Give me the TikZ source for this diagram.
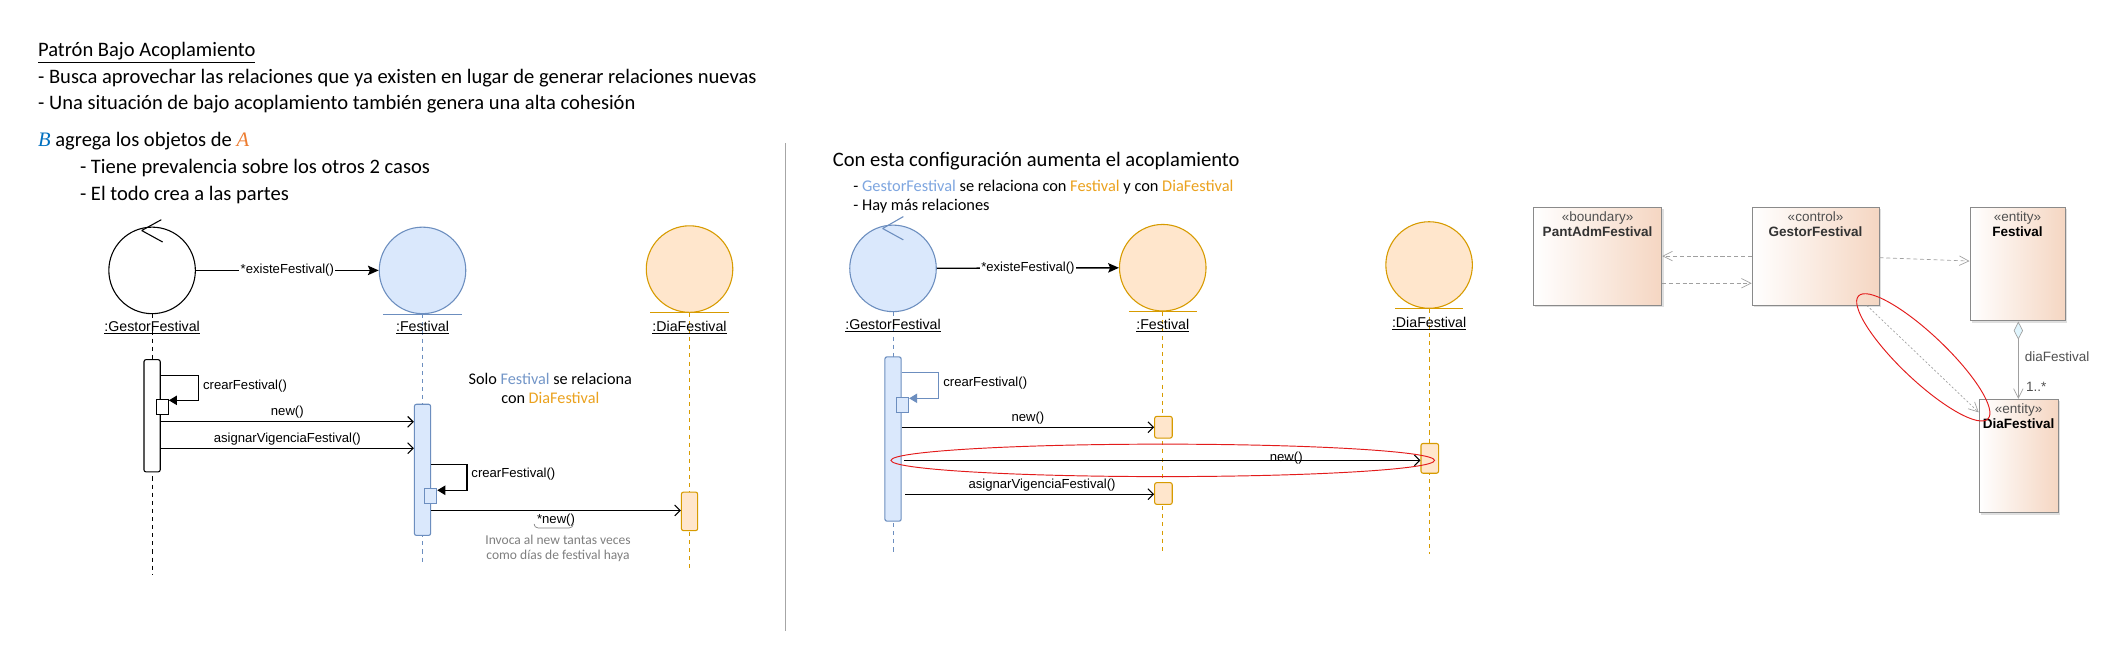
\documentclass[tikz,border=0pt]{standalone}
\usepackage{fontspec}
\setmainfont{Carlito}
\newfontfamily\seqfont{Liberation Sans}
\newfontfamily\letrafont{Liberation Serif}
\usepackage{xcolor}
\usepackage{tikz}
\usetikzlibrary{positioning,shapes,arrows.meta,shadows}

\definecolor{azulF}{HTML}{DAE8FC}
\definecolor{azulB}{HTML}{6C8EBF}
\definecolor{naranjaF}{HTML}{FFE6CC}
\definecolor{naranjaB}{HTML}{D79B00}
\definecolor{txtAzul}{HTML}{7396C8}
\definecolor{txtAzulC}{HTML}{7EA6E0}
\definecolor{txtNar}{HTML}{EBA21E}
\definecolor{letraB}{HTML}{0070C0}
\definecolor{letraA}{HTML}{ED7D31}
\definecolor{gris}{HTML}{7F7F7F}
\definecolor{grisC}{HTML}{505050}
\definecolor{rojo}{HTML}{E31B1B}
\definecolor{durazno}{HTML}{F5D6C2}
\definecolor{borde}{HTML}{8A8A8A}
\definecolor{flecha}{HTML}{A0A0A0}

\begin{document}
\begin{tikzpicture}
  [x=1pt,y=-1pt,
   every node/.style={inner sep=0pt},
   texto/.style={anchor=base west, font=\fontsize{15.2}{18}\selectfont},
   textochico/.style={anchor=base west, font=\fontsize{12.1}{14}\selectfont},
   ctrl/.style={draw, circle, minimum size=64pt, line width=.8pt},
   ent/.style={draw=naranjaB, fill=naranjaF, circle, minimum size=64pt, line width=.8pt},
   nombre/.style={font=\seqfont\fontsize{10.5}{12}\selectfont},
   vida/.style={dash pattern=on 3pt off 3pt, line width=.7pt},
   act/.style={draw, rounded corners=1.5pt, minimum width=12pt, line width=.8pt},
   sub/.style={draw, minimum width=9pt, minimum height=11pt, line width=.8pt},
   msg/.style={-{Straight Barb[length=4pt,width=8pt]}, line width=.8pt},
   propia/.style={-{Triangle[length=6pt,width=7pt]}, line width=.8pt},
   llama/.style={-{Stealth[length=8pt,width=7pt,inset=1.5pt]}, line width=1pt},
   etq/.style={font=\seqfont\fontsize{9.7}{11}\selectfont},
   clase/.style={draw=borde, line width=.6pt, left color=white, right color=durazno,
     drop shadow={shadow xshift=1.5pt, shadow yshift=-1.5pt, opacity=.25}},
   clasetxt/.style={anchor=north, align=center, font=\seqfont\fontsize{10}{11}\selectfont, text=black!80},
   dep/.style={flecha, dash pattern=on 3pt off 2pt, line width=.5pt, -{Straight Barb[length=7pt,width=7pt]}},
   circulo/.style={rojo, line width=.7pt}]

  \fill[white] (0,0) rectangle (1568,482);
  \useasboundingbox (0,0) rectangle (1568,482);

  \node[texto] (titulo) at (28,42) {\underline{Patrón Bajo Acoplamiento}};
  \node[texto] (l1) at (28,61.7) {- Busca aprovechar las relaciones que ya existen en lugar de generar relaciones nuevas};
  \node[texto] (l2) at (28,81) {- Una situación de bajo acoplamiento también genera una alta cohesión};
  \node[texto] (l3) at (28,108.6) {\textcolor{letraB}{\letrafont\itshape B} agrega los objetos de \textcolor{letraA}{\letrafont\itshape A}};
  \node[texto] (l4) at (59,128.3) {- Tiene prevalencia sobre los otros 2 casos};
  \node[texto] (l5) at (59,148) {- El todo crea a las partes};

  \node[ctrl] (g1) at (112.5,200) {};
  \draw[line width=.8pt] (g1.center) ++(-7.7,-29.5) coordinate (g1p) -- ++(14.5,-8) (g1p) -- ++(15.5,8.5);
  \node[ent, draw=azulB, fill=azulF] (f1) at (312.5,200) {};
  \draw[azulB, line width=.8pt] ([xshift=-29pt]f1.south) -- ([xshift=29pt]f1.south);
  \node[ent] (d1) at (510,199) {};
  \draw[naranjaB, line width=.8pt] ([xshift=-29pt]d1.south) -- ([xshift=29pt]d1.south);

  \draw[llama] (g1) -- (f1) node[etq, midway, fill=white, inner sep=1pt] (e1) {*existeFestival()};

  \coordinate (g1fin) at (112.5,425);
  \coordinate (f1fin) at (312.5,416);
  \coordinate (d1fin) at (510,420);
  \foreach \from/\to/\col in {g1/g1fin/black, f1/f1fin/azulB, d1/d1fin/naranjaB}
    \draw[vida, \col] (\from) -- (\to);

  \node[nombre] (g1n) at (112.5,242.5) {\underline{:GestorFestival}};
  \node[nombre] (f1n) at (312.5,242.5) {\underline{:Festival}};
  \node[nombre] (d1n) at (510,242.5) {\underline{:DiaFestival}};

  \node[act, fill=white, minimum height=83pt] (ga1) at (112.5,307.5) {};
  \node[sub, fill=white] (gb1) at (120,301) {};
  \coordinate (s1) at (0,277.5);
  \draw[propia] (ga1.east |- s1) -- ++(28,0) |- ([yshift=-1pt]gb1.north east);
  \node[etq, anchor=west] (cf1) at (150,285.5) {crearFestival()};

  \node[act, draw=azulB, fill=azulF, minimum height=97pt] (fa1) at (312.5,347.5) {};
  \coordinate (m1) at (0,312);
  \coordinate (m2) at (0,331.5);
  \draw[msg] (ga1.east |- m1) -- (fa1.west |- m1) node[etq, midway, above=2pt] (n1) {new()};
  \draw[msg] (ga1.east |- m2) -- (fa1.west |- m2) node[etq, midway, above=2pt] (n2) {asignarVigenciaFestival()};

  \node[sub, draw=azulB, fill=azulF] (fb1) at (318.5,367) {};
  \coordinate (s2) at (0,343.5);
  \draw[propia] (fa1.east |- s2) -- ++(26.5,0) |- ([yshift=-1.5pt]fb1.north east);
  \node[etq, anchor=west] (cf2) at (348.5,351) {crearFestival()};

  \node[act, draw=naranjaB, fill=naranjaF, minimum height=28.5pt] (da1) at (510,378.2) {};
  \coordinate (m3) at (0,377.5);
  \draw[msg] (fa1.east |- m3) -- (da1.west |- m3) node[etq, midway, below=2.5pt] (n3) {*new()};
  \draw[gris, line width=.5pt] (395,387.5) to[out=-90,in=180] (398,390.5) -- (421,390.5) to[out=0,in=-90] (424,387.5);
  \node[font=\fontsize{10}{11}\selectfont, text=gris, align=center] (nota1) at (412.7,405.8) {Invoca al new tantas veces\\como días de festival haya};

  \node[font=\fontsize{12}{14}\selectfont, align=center] (solo) at (407,287) {Solo \textcolor{txtAzul}{Festival} se relaciona\\con \textcolor{txtNar}{DiaFestival}};

  \draw[gray!70, line width=.8pt] (581,106) -- (581,467);

  \node[texto] (c1) at (615.8,122.8) {Con esta configuración aumenta el acoplamiento};
  \node[textochico] (c2) at (631,142) {- \textcolor{txtAzulC}{GestorFestival} se relaciona con \textcolor{txtNar}{Festival} y con \textcolor{txtNar}{DiaFestival}};
  \node[textochico] (c3) at (631,156) {- Hay más relaciones};

  \node[ctrl, draw=azulB, fill=azulF] (g2) at (660.5,198.5) {};
  \draw[azulB, line width=.8pt] (g2.center) ++(-7.7,-29.5) coordinate (g2p) -- ++(15.3,-8.8) (g2p) -- ++(15.3,8.4);
  \node[ent] (f2) at (860,198) {};
  \draw[naranjaB, line width=.8pt] ([xshift=-25pt]f2.south) -- ([xshift=25pt]f2.south);
  \node[ent] (d2) at (1057,196) {};
  \draw[naranjaB, line width=.8pt] ([xshift=-25pt]d2.south) -- ([xshift=25pt]d2.south);

  \draw[llama] (g2) -- (f2) node[etq, midway, fill=white, inner sep=1pt] (e2) {*existeFestival()};

  \coordinate (g2fin) at (660.5,409.5);
  \coordinate (f2fin) at (860,409.5);
  \coordinate (d2fin) at (1057,409.5);
  \foreach \from/\to/\col in {g2/g2fin/azulB, f2/f2fin/naranjaB, d2/d2fin/naranjaB}
    \draw[vida, \col] (\from) -- (\to);

  \node[nombre] (g2n) at (660.5,241) {\underline{:GestorFestival}};
  \node[nombre] (f2n) at (860,241) {\underline{:Festival}};
  \node[nombre] (d2n) at (1057,239.5) {\underline{:DiaFestival}};

  \node[act, draw=azulB, fill=azulF, minimum height=121.5pt] (ga2) at (660.5,324.7) {};
  \node[sub, draw=azulB, fill=azulF] (gb2) at (667.5,299.5) {};
  \coordinate (s3) at (0,275.5);
  \draw[propia, azulB] (ga2.east |- s3) -- ++(27.5,0) |- ([yshift=-1pt]gb2.north east);
  \node[etq, anchor=west] (cf3) at (697.5,283) {crearFestival()};

  \node[act, draw=naranjaB, fill=naranjaF, minimum width=13pt, minimum height=16pt] (fa2) at (860.5,316) {};
  \node[act, draw=naranjaB, fill=naranjaF, minimum width=13pt, minimum height=16pt] (fa3) at (860.5,365) {};
  \node[act, draw=naranjaB, fill=naranjaF, minimum width=13pt, minimum height=22pt] (da2) at (1057.5,339) {};
  \coordinate (m4) at (0,316);
  \coordinate (m5) at (0,340.5);
  \coordinate (m6) at (0,365.5);
  \draw[msg] (ga2.east |- m4) -- (fa2.west |- m4) node[etq, midway, above=2pt] (n4) {new()};
  \draw[msg] ([xshift=2pt]ga2.east |- m5) -- (da2.west |- m5) node[etq, pos=.74, yshift=2pt] (n5) {new()};
  \draw[msg] ([xshift=2.5pt]ga2.east |- m6) -- (fa3.west |- m6) node[etq, pos=.55, above=2pt] (n6) {asignarVigenciaFestival()};
  \draw[circulo] (860,340.5) ellipse [x radius=201pt, y radius=12pt];

  \node[clase, minimum width=95pt, minimum height=72.3pt] (pant) at (1181.6,189.5) {};
  \node[clasetxt, below=3.5pt of pant.north] (pantt) {\textcolor{grisC}{«boundary»}\\\textbf{PantAdmFestival}};
  \node[clase, minimum width=94pt, minimum height=72.3pt] (gest) at (1342.8,189.5) {};
  \node[clasetxt, below=3.5pt of gest.north] (gestt) {\textcolor{grisC}{«control»}\\\textbf{GestorFestival}};
  \node[clase, minimum width=70.4pt, minimum height=84pt] (fest) at (1492.2,195.2) {};
  \node[clasetxt, below=3.5pt of fest.north] (festt) {\textcolor{grisC}{«entity»}\\\textbf{\textcolor{black}{Festival}}};
  \node[clase, minimum width=58.4pt, minimum height=84pt] (dia) at (1493,337.3) {};
  \node[clasetxt, below=3.5pt of dia.north] (diat) {\textcolor{grisC}{«entity»}\\\textbf{\textcolor{black}{DiaFestival}}};

  \coordinate (a1) at (0,189.4);
  \coordinate (a2) at (0,209.5);
  \coordinate (a3) at (0,190.6);
  \coordinate (a4) at (0,193.1);
  \draw[dep] (gest.west |- a1) -- (pant.east |- a1);
  \draw[dep] (pant.east |- a2) -- (gest.west |- a2);
  \draw[dep] (gest.east |- a3) -- (fest.west |- a4);
  \draw[dep, dash pattern=on 1.5pt off 1.5pt] ([xshift=38pt]gest.south) -- ([yshift=-10pt]dia.north west);

  \node[diamond, draw=flecha, fill=cyan!12, minimum width=6.5pt, minimum height=12.5pt, line width=.5pt] (rombo) at (1492.8,244.5) {};
  \draw[flecha, line width=.5pt, -{Straight Barb[length=7pt,width=7pt]}] (rombo.south) -- (dia.north -| rombo.south);
  \node[font=\seqfont\fontsize{10}{12}\selectfont, text=grisC, anchor=west] (rol) at (1497.4,263.8) {diaFestival};
  \node[font=\seqfont\fontsize{10}{12}\selectfont, text=grisC, anchor=west] (mult) at (1498.3,286) {1..*};

  \draw[circulo] (1422.5,264.3) ellipse [x radius=66pt, y radius=17pt, rotate=-43.5];
\end{tikzpicture}
\end{document}
